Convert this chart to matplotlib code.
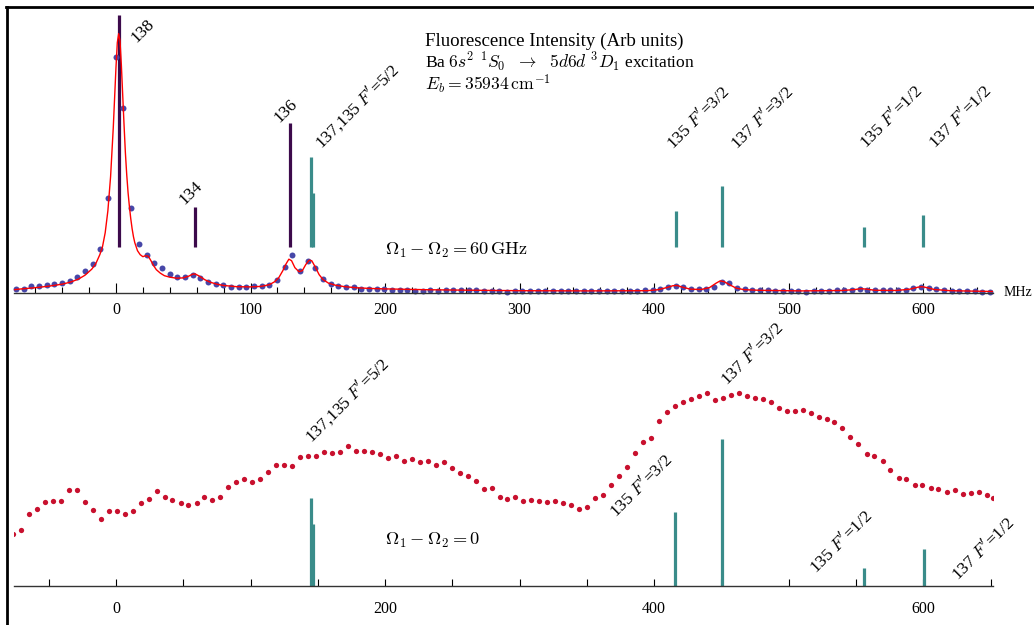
import numpy as np
import matplotlib.pyplot as plt
from matplotlib.lines import Line2D
from matplotlib.ticker import MultipleLocator

plt.rcParams['font.family'] = ['Liberation Serif', 'DejaVu Serif']
plt.rcParams['mathtext.fontset'] = 'cm'

# --- upper panel: Omega1 - Omega2 = 60 GHz ---
top_freq = [-74.2, -68.5, -62.8, -57.1, -51.4, -45.7, -40.0, -34.3, -28.6, -22.9,
            -17.2, -11.5, -5.8, -0.1, 5.6, 11.3, 17.0, 22.7, 28.4, 34.1,
            39.8, 45.5, 51.2, 56.9, 62.6, 68.3, 74.0, 79.7, 85.4, 91.1,
            96.8, 102.5, 108.2, 113.9, 119.6, 125.3, 131.0, 136.7, 142.4, 148.1,
            153.8, 159.5, 165.2, 170.9, 176.6, 182.3, 188.0, 193.7, 199.4, 205.1,
            210.8, 216.5, 222.2, 227.9, 233.6, 239.3, 245.0, 250.7, 256.4, 262.1,
            267.8, 273.5, 279.2, 284.9, 290.6, 296.3, 302.0, 307.7, 313.4, 319.1,
            324.8, 330.5, 336.2, 341.9, 347.6, 353.3, 359.0, 364.7, 370.4, 376.1,
            381.8, 387.5, 393.2, 398.9, 404.6, 410.3, 416.0, 421.7, 427.4, 433.1,
            438.8, 444.5, 450.2, 455.9, 461.6, 467.3, 473.0, 478.7, 484.4, 490.1,
            495.8, 501.5, 507.2, 512.9, 518.6, 524.3, 530.0, 535.7, 541.4, 547.1,
            552.8, 558.5, 564.2, 569.9, 575.6, 581.3, 587.0, 592.7, 598.4, 604.1,
            609.8, 615.5, 621.2, 626.9, 632.6, 638.3, 644.0, 649.7]
top_signal = [3.4, 4.0, 6.7, 7.0, 7.7, 8.7, 10.0, 12.0, 16.0, 21.7,
              28.4, 43.4, 94.4, 235.4, 184.4, 85.0, 48.4, 38.0, 30.0, 25.0,
              18.7, 16.0, 16.0, 17.7, 15.0, 11.0, 8.4, 7.4, 6.0, 6.0,
              6.0, 6.7, 7.0, 7.7, 12.7, 25.4, 37.4, 22.0, 31.7, 25.0,
              13.7, 8.4, 6.7, 6.0, 5.4, 4.0, 3.4, 4.0, 3.4, 3.0,
              2.7, 2.4, 1.7, 2.0, 2.4, 2.0, 2.4, 2.4, 2.7, 2.4,
              2.4, 2.0, 1.7, 1.7, 1.0, 1.7, 1.4, 2.0, 1.7, 2.0,
              1.7, 1.4, 1.7, 1.7, 1.4, 2.0, 2.0, 2.0, 2.0, 2.0,
              2.0, 1.7, 2.4, 2.4, 3.4, 5.7, 7.0, 5.7, 3.7, 3.4,
              3.4, 5.4, 11.0, 9.7, 5.0, 3.4, 2.7, 2.7, 2.4, 1.7,
              1.7, 1.7, 1.4, 1.0, 1.7, 1.7, 2.0, 2.4, 2.7, 3.0,
              4.0, 3.0, 2.4, 2.4, 2.4, 2.7, 3.0, 4.5, 5.7, 5.0,
              3.7, 2.7, 2.0, 1.7, 1.4, 1.4, 1.0, 0.7]

fit_freq = [-76, -70, -60, -50, -40, -34, -28, -23, -18, -15, -12, -10, -8, -6, -4,
            -2, -1, 0, 1, 2, 3, 4, 5, 6, 7, 8, 9, 10, 11, 12, 13, 14, 16, 18, 20,
            22, 24, 26, 28, 30, 33, 36, 40, 45, 50, 54, 57, 59, 62, 66, 70, 75, 80,
            90, 100, 108, 114, 118, 121, 124, 126.5, 128.5, 130.5, 133, 136, 138.5,
            141, 143.5, 145.5, 148, 151, 154, 158, 163, 170, 180, 190, 200, 230,
            260, 300, 350, 395, 403, 409, 414, 417, 421, 427, 435, 441, 446, 449,
            452, 456, 461, 467, 480, 510, 540, 548, 554, 558, 564, 580, 590, 596,
            599, 603, 608, 620, 652]
fit_signal = [3.0, 3.8, 5.0, 6.5, 8.5, 10.5, 13.5, 17.5, 23.5, 29, 38, 46, 60, 82, 116,
              165, 195, 225, 250, 259, 252, 228, 198, 168, 140, 118, 100, 86, 74, 64, 56, 50, 42, 38, 36,
              37, 36.5, 32, 27, 23, 19.5, 17, 15.5, 14.5, 14.8, 16.5, 18.5, 18.7, 16.5, 13, 10.5, 8.5, 7.2,
              6.0, 5.8, 6.3, 8.0, 11, 15, 22, 29, 33.5, 32, 25, 21, 22,
              28, 32.5, 32, 26, 18, 13, 9.5, 7.5, 6, 4.8, 4.2, 3.8, 3.0,
              2.5, 2.0, 1.8, 2.0, 3.0, 5.0, 7.0, 7.2, 5.5, 3.5, 3.2, 5.0, 9.5, 11.8,
              11, 8.0, 4.5, 3.0, 2.3, 1.8, 2.2, 3.0, 4.0, 3.5, 2.4, 2.2, 3.5, 5.5,
              6.0, 5.0, 3.2, 2.0, 1.2]

even_pos = [2.2, 58.7, 129.6]
even_top = [277.7, 85.4, 170.0]
even_names = ['138', '134', '136']
odd_pos = [144.7, 146.6, 416.2, 450.6, 556.2, 600.0]
odd_top = [135.4, 100.0, 82.0, 106.7, 65.4, 77.4]
stick_base = 45.4

# --- lower panel: Omega1 - Omega2 = 0 ---
low_freq = [-76.2, -70.5, -64.8, -58.9, -52.9, -47.0, -41.0, -35.1, -29.1, -23.2,
            -17.2, -11.3, -5.4, 0.6, 6.5, 12.5, 18.4, 24.4, 30.3, 36.3,
            42.0, 48.0, 53.9, 59.9, 65.8, 71.7, 77.5, 83.4, 89.4, 95.3,
            101.3, 107.2, 113.2, 119.1, 125.1, 131.0, 137.0, 142.9, 148.8, 154.8,
            160.7, 166.7, 172.3, 178.3, 184.2, 190.2, 196.1, 202.1, 208.0, 214.0,
            219.9, 225.7, 231.6, 237.5, 243.5, 249.4, 255.4, 261.3, 267.3, 273.2,
            279.2, 285.1, 290.9, 296.8, 302.5, 308.7, 314.4, 320.3, 326.3, 332.2,
            338.2, 344.1, 350.1, 356.0, 362.0, 367.9, 373.9, 379.8, 385.8, 391.7,
            397.7, 403.6, 409.6, 415.5, 421.5, 427.4, 433.4, 439.3, 445.3, 451.2,
            457.2, 463.1, 469.1, 475.0, 480.9, 486.9, 492.8, 498.8, 504.7, 510.7,
            516.6, 522.6, 528.5, 534.0, 539.9, 545.9, 551.8, 557.8, 563.7, 569.7,
            575.6, 581.6, 587.5, 593.5, 599.4, 605.4, 611.3, 617.3, 623.2, 629.2,
            635.1, 641.1, 647.0, 651.9]
low_signal = [52, 56, 72, 76.7, 84, 85, 85.3, 96.3, 95.7, 84,
              76.3, 67.3, 75.3, 74.7, 71.7, 75.3, 82.7, 87.3, 94.7, 88.7,
              85.7, 82.7, 81.3, 83, 89.3, 86.3, 89, 98.7, 104, 107.3,
              104.3, 106.7, 114, 121.3, 121, 119.7, 129, 130.3, 130, 134.3,
              132.7, 134.3, 140.3, 135.3, 135.3, 133.7, 132, 128.3, 130.3, 125,
              127, 124.3, 125, 121, 124, 118, 113, 109.7, 105.3, 97.3,
              97.7, 88.7, 86.7, 89.3, 85.3, 85.7, 85, 83.7, 84.7, 83.3,
              81, 77.3, 78.7, 87.7, 90.7, 101, 109.7, 119.3, 133.3, 144.3,
              148, 165.3, 173.7, 179.7, 184.3, 186.7, 189.7, 193, 186, 188,
              190.7, 193.3, 189.7, 188.3, 187.3, 184.3, 177.7, 175, 175, 176,
              172.7, 169, 166.7, 164.3, 158, 148.7, 142.3, 132.3, 130, 125,
              116, 107.7, 107, 101, 101, 98.3, 96.7, 94, 96, 91.7,
              92.7, 94, 91, 87.7]

low_odd_pos = [144.7, 146.6, 415.7, 450.6, 556.2, 600.3]
low_odd_top = [88, 62, 74, 147, 18, 37]

odd_names = ["137,135 $F'$=5/2", "135 $F'$=3/2", "137 $F'$=3/2", "135 $F'$=1/2", "137 $F'$=1/2"]
top_label_x = [179.1, 432.6, 480.1, 576.0, 627.3]
top_label_y = [186.7, 174.7, 174.7, 175.7, 175.7]
low_label_x = [171.7, 390.2, 472.7, 538.8, 644.4]
low_label_y = [186, 100, 232, 44, 37]

blue = '#4747a8'
purple = '#3c0a4b'
teal = '#3a8c8a'
crimson = '#c8102e'

fig = plt.figure(figsize=(10.34, 6.25), dpi=100)
ax1 = fig.add_axes([0.0139, 0.5189, 0.9467, 0.4656])
ax2 = fig.add_axes([0.0139, 0.0496, 0.9467, 0.4448])

for ax in (ax1, ax2):
    ax.set_xlim(-75.5, 652)
    for s in ('left', 'right', 'top'):
        ax.spines[s].set_visible(False)
    ax.spines['bottom'].set_position(('data', 0))
    ax.spines['bottom'].set_color('#333333')
    ax.spines['bottom'].set_linewidth(1.0)
    ax.set_yticks([])
    ax.patch.set_alpha(0)

ax1.set_ylim(-8, 283)
ax2.set_ylim(-8, 270)

# upper panel
ax1.vlines(even_pos, stick_base, even_top, color=purple, lw=2.3)
ax1.vlines(odd_pos, stick_base, odd_top, color=teal, lw=2.3)
ax1.plot(fit_freq, fit_signal, color='red', lw=1.0, zorder=3)
ax1.plot(top_freq, top_signal, 'o', color=blue, ms=4.3, mec='none', zorder=2, clip_on=False)

label_pos = {'138': (20.1, 261.7), '134': (55.7, 99.7), '136': (126.3, 181.7)}
for name in even_names:
    x, y = label_pos[name]
    ax1.text(x, y, name, rotation=45, ha='center', va='center', rotation_mode='anchor', fontsize=12.5)
for name, x, y in zip(odd_names, top_label_x, top_label_y):
    ax1.text(x, y, name, rotation=45, ha='center', va='center', rotation_mode='anchor', fontsize=12.5)

ax1.text(229.7, 251.0, 'Fluorescence Intensity (Arb units)', fontsize=13.6, va='center')
ax1.text(229.7, 230.0, r'Ba $6s^2\ {}^1S_0\ \ \rightarrow\ \ 5d6d\ {}^3D_1$ excitation', fontsize=12.6, va='center')
ax1.text(229.7, 208.0, r'$E_b = 35934\,\mathrm{cm}^{-1}$', fontsize=12.7, va='center')
ax1.text(199.9, 42.7, r'$\Omega_1 - \Omega_2 = 60\,\mathrm{GHz}$', fontsize=13.2, va='center')
ax1.text(660, 0, 'MHz', fontsize=10, va='center', clip_on=False)

ax1.xaxis.set_major_locator(MultipleLocator(100))
ax1.xaxis.set_minor_locator(MultipleLocator(20))
ax1.tick_params(axis='x', which='major', direction='in', length=7, width=0.8, labelsize=11.5, pad=7)
ax1.tick_params(axis='x', which='minor', direction='in', length=4, width=0.8)

# lower panel
ax2.vlines(low_odd_pos, 0, low_odd_top, color=teal, lw=2.3)
ax2.plot(low_freq, low_signal, 'o', color=crimson, ms=3.8, mec='none')
for name, x, y in zip(odd_names, low_label_x, low_label_y):
    ax2.text(x, y, name, rotation=45, ha='center', va='center', rotation_mode='anchor',
             fontsize=12.5, clip_on=False)
ax2.text(199.9, 46, r'$\Omega_1 - \Omega_2 = 0$', fontsize=13.2, va='center')

ax2.xaxis.set_major_locator(MultipleLocator(200))
ax2.xaxis.set_minor_locator(MultipleLocator(50))
ax2.tick_params(axis='x', which='major', direction='in', length=5, width=0.8, labelsize=11.5, pad=11)
ax2.tick_params(axis='x', which='minor', direction='in', length=5, width=0.8)

# frame
fig.add_artist(Line2D([6 / 1034, 1], [1 - 7.3 / 625] * 2, color='black', lw=2))
fig.add_artist(Line2D([6.7 / 1034] * 2, [0, 1 - 6.5 / 625], color='black', lw=2))

fig.savefig('out.png', dpi=100)
